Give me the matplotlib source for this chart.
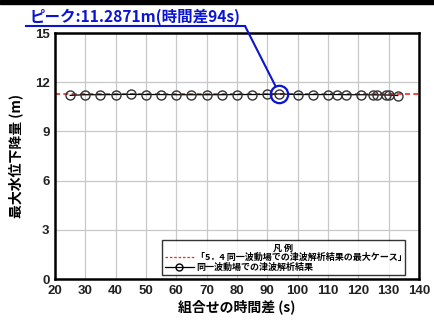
import matplotlib.pyplot as plt
from matplotlib.lines import Line2D
from matplotlib.patches import Rectangle

plt.rcParams['font.family'] = ['Noto Sans CJK JP', 'DejaVu Sans']

# データ (時間差 s, 最大水位下降量 m)
time_diff = [25, 30, 35, 40, 45, 50, 55, 60, 65, 70, 75, 80, 85, 90, 94,
             100, 105, 110, 113, 116, 121, 125, 126, 129, 130, 133]
drop = [11.20, 11.24, 11.24, 11.25, 11.26, 11.25, 11.25, 11.24, 11.24, 11.24,
        11.24, 11.25, 11.25, 11.26, 11.2871, 11.25, 11.25, 11.25, 11.25, 11.24,
        11.24, 11.23, 11.23, 11.22, 11.22, 11.19]
max_case = 11.2871
peak_t = 94
x_ticks = list(range(20, 141, 10))
y_ticks = [0, 3, 6, 9, 12, 15]

blue = '#0a14d2'

fig = plt.figure(figsize=(4.34, 3.21), dpi=100)
ax = fig.add_axes([0.1267, 0.1308, 0.8387, 0.7662])

# 凡例の最大ケース
ax.axhline(max_case, color='#ff2020', ls=(0, (3, 2)), lw=1.2, zorder=2)
ax.plot(time_diff, drop, color='black', lw=0.9, marker='o', ms=6.5,
        mfc='none', mec='#333333', mew=1.0, zorder=3)

# ピークの丸
ax.plot([peak_t], [max_case], marker='o', ms=12.5, mfc='none', mec=blue,
        mew=1.6, zorder=4)

ax.set_xlim(20, 140)
ax.set_ylim(0, 15)
ax.set_xticks(x_ticks)
ax.set_yticks(y_ticks)
ax.grid(True, color='#c8c8c8', lw=0.9)
ax.set_axisbelow(True)
ax.tick_params(length=0, pad=4, labelsize=9.5)
for lab in ax.get_xticklabels() + ax.get_yticklabels():
    lab.set_fontweight('bold')
    lab.set_family('Liberation Sans')
    lab.set_color('#222222')
for s in ax.spines.values():
    s.set_linewidth(1.8)

ax.set_xlabel('組合せの時間差 (s)', fontsize=10, fontweight='bold', labelpad=2)
ax.set_ylabel('最大水位下降量 (m)', fontsize=10, fontweight='bold', labelpad=8)

# 引き出し線と注記
fig.text(30 / 434, 1 - 17 / 321, 'ピーク:11.2871m(時間差94s)', color=blue,
         fontsize=11.2, fontweight='bold', va='center', ha='left')
fig.add_artist(Line2D([26 / 434, 245 / 434], [1 - 26 / 321, 1 - 26 / 321],
                      color=blue, lw=1.5))
ax.annotate('', xy=(peak_t, max_case), xycoords='data',
            xytext=(245 / 434, 1 - 26 / 321), textcoords='figure fraction',
            arrowprops=dict(arrowstyle='-', color=blue, lw=1.5,
                            shrinkA=0, shrinkB=6.5))

# 上端の黒帯
fig.add_artist(Rectangle((0, 1 - 4 / 321), 1, 4 / 321, transform=fig.transFigure,
                         color='black'))

handles = [Line2D([], [], color='#ff2020', ls=(0, (2, 1.5)), lw=0.9),
           Line2D([], [], color='black', lw=0.9, marker='o', ms=5,
                  mfc='none', mec='black')]
labels = ['「5．4 同一波動場での津波解析結果の最大ケース」',
          '同一波動場での津波解析結果']
leg = ax.legend(handles, labels, title='凡 例', loc='lower left',
                bbox_to_anchor=(0.294, 0.016, 0.667, 0.155), mode='expand',
                fontsize=6.5, title_fontproperties={'size': 6.5, 'weight': 'bold'},
                frameon=True, fancybox=False, edgecolor='black',
                handlelength=3.2, handletextpad=0.3, borderpad=0.3,
                labelspacing=0.1, borderaxespad=0)
leg.get_frame().set_linewidth(1.0)
for t in leg.get_texts():
    t.set_fontweight('bold')

fig.savefig('out.png', dpi=100)
